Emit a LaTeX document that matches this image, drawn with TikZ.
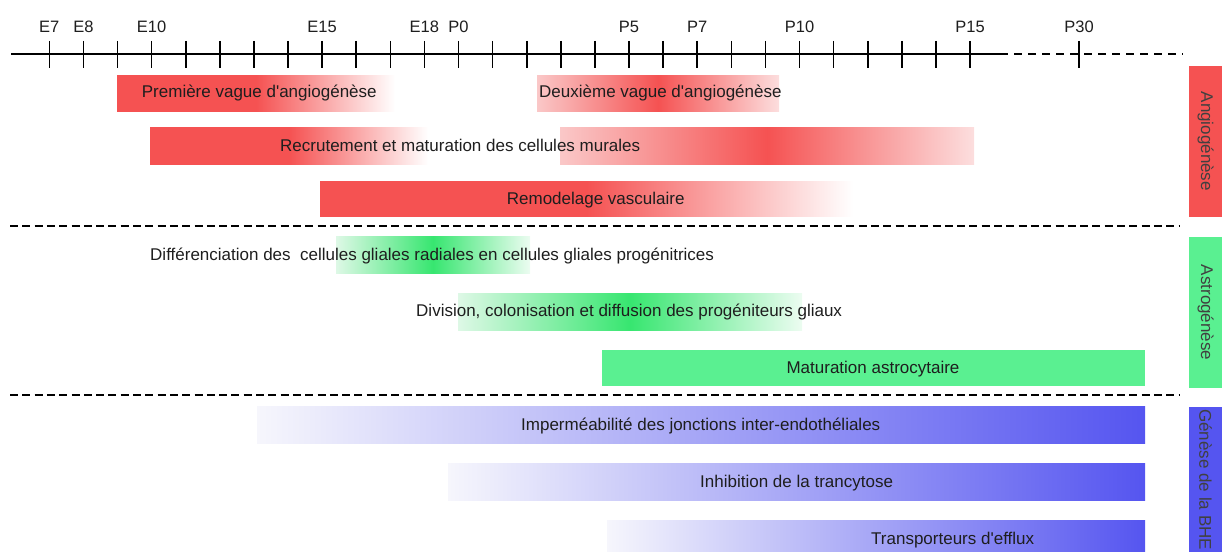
\documentclass[tikz,border=0pt]{standalone}
\usepackage{fontspec}
\setmainfont{Liberation Sans}
\definecolor{redC}{RGB}{245,82,82}
\definecolor{pinkA}{RGB}{250,200,200}
\definecolor{pinkB}{RGB}{252,222,222}
\definecolor{greenC}{RGB}{90,240,145}
\definecolor{greenP}{RGB}{55,230,112}
\definecolor{greenA}{RGB}{222,248,230}
\definecolor{greenB}{RGB}{236,252,241}
\definecolor{blueC}{RGB}{85,85,240}
\definecolor{blueA}{RGB}{246,246,252}
\definecolor{txt}{RGB}{30,30,30}
\begin{document}
\begin{tikzpicture}[x=1pt,y=-1pt,
  every node/.style={font=\fontsize{17}{20}\selectfont, text=txt, inner sep=0pt},
  ticklab/.style={anchor=base, font=\fontsize{16.5}{19}\selectfont},
  bartext/.style={anchor=base west},
  sidetext/.style={rotate=-90, text=txt!85},
  sep/.style={line width=2.5pt, dash pattern=on 8pt off 4.3pt},
  axisline/.style={line width=1.6pt, black},
  fadered/.style={left color=redC, right color=white, middle color=redC},
  peakred/.style={left color=pinkA, right color=pinkB, middle color=redC},
  peakgreen/.style={left color=greenA, right color=greenB, middle color=greenP},
  fadeblue/.style={left color=blueA, right color=blueC}]
\useasboundingbox (0,0) rectangle (1222,551);
% axis
\coordinate (axA) at (11,54.3);
\coordinate (axB) at (1000,54.3);
\coordinate (axC) at (1183,54.3);
\draw[axisline] (axA) -- (axB);
\draw[axisline, line width=2pt, dash pattern=on 8pt off 6pt] (axB) -- (axC);
\foreach \i in {0,...,27} {
  \draw[axisline] ({49.3+34.1*\i},41) -- ({49.3+34.1*\i},67.7);
}
\draw[axisline] (1079,41) -- (1079,67.7);
\foreach \i/\l in {0/E7,1/E8,3/E10,8/E15,11/E18,12/P0,17/P5,19/P7,22/P10,27/P15} {
  \node[ticklab] (lab\l) at ({49.3+34.1*\i},32.7) {\l};
}
\node[ticklab] (labP30) at (1079,32.7) {P30};
% Angiogenese bars
\shade[fadered] (117,75) rectangle (395,111.7);
\shade[peakred] (537,75) rectangle (779,111.7);
\shade[fadered] (150,127.5) rectangle (428,164.5);
\shade[peakred] (560,127.5) rectangle (974,164.5);
\shade[fadered] (320,181) rectangle (853,216.7);
\node[bartext] (t1) at (141.7,97.3) {Première vague d\textquotesingle angiogénèse};
\node[bartext] (t2) at (539,97.3) {Deuxième vague d\textquotesingle angiogénèse};
\node[bartext] (t3) at (280,151.5) {Recrutement et maturation des cellules murales};
\node[bartext] (t4) at (506.7,204.5) {Remodelage vasculaire};
% separators
\coordinate (s1a) at (10,226);
\coordinate (s1b) at (1180,226);
\coordinate (s2a) at (10,395);
\coordinate (s2b) at (1180,395);
\draw[sep] (s1a) -- (s1b);
\draw[sep] (s2a) -- (s2b);
% Astrogenese bars
\shade[peakgreen] (336,236.7) rectangle (530,273.3);
\shade[peakgreen] (458,293) rectangle (802,330);
\fill[greenC] (602,350) rectangle (1145,386);
\node[bartext] (t5) at (150,260) {Différenciation des\ \ cellules gliales radiales en cellules gliales progénitrices};
\node[bartext] (t6) at (416,316) {Division, colonisation et diffusion des progéniteurs gliaux};
\node[anchor=base] (t7) at (873,373.5) {Maturation astrocytaire};
% BHE bars
\shade[fadeblue] (257,406.7) rectangle (1145,443);
\shade[fadeblue] (448,463.5) rectangle (1145,500);
\shade[fadeblue] (607,520.5) rectangle (1145,557);
\node[bartext] (t8) at (521,430.5) {Imperméabilité des jonctions inter-endothéliales};
\node[bartext] (t9) at (700,487) {Inhibition de la trancytose};
\node[bartext] (t10) at (871,544) {Transporteurs d\textquotesingle efflux};
% side labels
\fill[redC] (1189,65.7) rectangle (1222,217);
\fill[greenC] (1189,237) rectangle (1222,388);
\fill[blueC] (1189,407) rectangle (1222,570);
\node[sidetext] (sA) at (1205.5,141.3) {Angiogénèse};
\node[sidetext] (sB) at (1205.5,312.5) {Astrogénèse};
\node[sidetext, anchor=west] (sC) at (1205.5,409) {Génèse de la BHE};
\end{tikzpicture}
\end{document}
